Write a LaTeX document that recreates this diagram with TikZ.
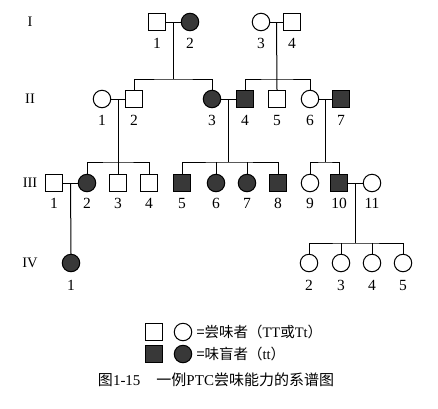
\documentclass[tikz,border=0pt]{standalone}
\usepackage{fontspec}
\setmainfont{Liberation Serif}
\newfontfamily\cjk{Noto Sans CJK SC}
\usepackage{xcolor}
\usepackage{tikz}
\usetikzlibrary{calc}

\begin{document}
\begin{tikzpicture}[
    x=1pt, y=-1pt,
    line width=1pt,
    male/.style={rectangle, draw, minimum size=17pt, inner sep=0pt, fill=white},
    female/.style={circle, draw, minimum size=17.5pt, inner sep=0pt, fill=white},
    aff/.style={fill=black!78},
    num/.style={font=\fontsize{15.5}{15.5}\selectfont, inner sep=0pt},
    gen/.style={font=\fontsize{14.5}{14.5}\selectfont, inner sep=0pt},
    txt/.style={font=\fontsize{14.5}{14.5}\selectfont, anchor=west, inner sep=0pt}
]
\useasboundingbox (0,0) rectangle (438,408);

% ── Generation labels ──
\node[gen] (gI)   at (30, 22)  {I};
\node[gen] (gII)  at (30, 99)  {II};
\node[gen] (gIII) at (30, 183) {III};
\node[gen] (gIV)  at (30, 263) {IV};

% ── Generation I ──
\node[male]        (I1) at (157, 22) {};
\node[female, aff] (I2) at (190, 22) {};
\node[female]      (I3) at (261, 22) {};
\node[male]        (I4) at (292, 22) {};
\node[num] at (157, 43) {1};
\node[num] at (190, 43) {2};
\node[num] at (261, 43) {3};
\node[num] at (292, 43) {4};

% ── Generation II ──
\node[female]      (II1) at (102, 99) {};
\node[male]        (II2) at (134, 99) {};
\node[female, aff] (II3) at (212, 99) {};
\node[male, aff]   (II4) at (245, 99) {};
\node[male]        (II5) at (277, 99) {};
\node[female]      (II6) at (310, 99) {};
\node[male, aff]   (II7) at (341, 99) {};
\foreach \n/\x in {1/102, 2/134, 3/212, 4/245, 5/277, 6/310, 7/341}
    \node[num] at (\x, 120) {\n};

% ── Generation III ──
\node[male]        (III1)  at (54, 183)  {};
\node[female, aff] (III2)  at (87, 183)  {};
\node[male]        (III3)  at (118, 183) {};
\node[male]        (III4)  at (149, 183) {};
\node[male, aff]   (III5)  at (182, 183) {};
\node[female, aff] (III6)  at (216, 183) {};
\node[female, aff] (III7)  at (247, 183) {};
\node[male, aff]   (III8)  at (278, 183) {};
\node[female]      (III9)  at (310, 183) {};
\node[male, aff]   (III10) at (339, 183) {};
\node[female]      (III11) at (372, 183) {};
\foreach \n/\x in {1/54, 2/87, 3/118, 4/149, 5/182, 6/216, 7/247, 8/278, 9/310, 10/339, 11/372}
    \node[num] at (\x, 203) {\n};

% ── Generation IV ──
\node[female, aff] (IV1) at (71, 263)  {};
\node[female]      (IV2) at (309, 263) {};
\node[female]      (IV3) at (341, 263) {};
\node[female]      (IV4) at (372, 263) {};
\node[female]      (IV5) at (403, 263) {};
\foreach \n/\x in {1/71, 2/309, 3/341, 4/372, 5/403}
    \node[num] at (\x, 285) {\n};

% ── Marriages and descent ──
\draw (I1) -- (I2);
\coordinate (mA) at ($(I1)!0.5!(I2)$);
\coordinate (sA) at (mA |- 0,79);
\draw (mA) -- (sA);
\draw (II2.north) |- (sA) -| (II3.north);

\draw (I3) -- (I4);
\coordinate (mB) at ($(I3)!0.5!(I4)$);
\coordinate (sB) at (mB |- 0,79);
\draw (mB) -- (II5.north);
\draw (II4.north) |- (sB) -| (II6.north);

\draw (II1) -- (II2);
\coordinate (mC) at ($(II1)!0.5!(II2)$);
\coordinate (sC) at (mC |- 0,162);
\draw (mC) -- (III3.north);
\draw (III2.north) |- (sC) -| (III4.north);

\draw (II3) -- (II4);
\coordinate (mD) at ($(II3)!0.5!(II4)$);
\coordinate (sD) at (mD |- 0,162);
\draw (mD) -- (sD);
\draw (III5.north) |- (sD) -| (III8.north);
\draw (III6.north) -- (III6.north |- sD);
\draw (III7.north) -- (III7.north |- sD);

\draw (II6) -- (II7);
\coordinate (mE) at ($(II6)!0.5!(II7)$);
\coordinate (sE) at (mE |- 0,162);
\draw (mE) -- (sE);
\draw (III9.north) |- (sE) -| (III10.north);

\draw (III1) -- (III2);
\coordinate (mF) at ($(III1)!0.5!(III2)$);
\draw (mF) -- (IV1.north);

\draw (III10) -- (III11);
\coordinate (mG) at ($(III10)!0.5!(III11)$);
\coordinate (sG) at (mG |- 0,243);
\draw (mG) -- (sG);
\draw (IV2.north) |- (sG) -| (IV5.north);
\draw (IV3.north) -- (IV3.north |- sG);
\draw (IV4.north) -- (IV4.north |- sG);

% ── Legend ──
\node[male]        (kM)  at (154, 332) {};
\node[female]      (kF)  at (183, 332) {};
\node[txt] (kT1) at (196, 332) {{\cjk =尝味者（}TT{\cjk 或}Tt{\cjk ）}};
\node[male, aff]   (kMA) at (154, 354) {};
\node[female, aff] (kFA) at (183, 354) {};
\node[txt] (kT2) at (196, 354) {{\cjk =味盲者（}tt{\cjk ）}};

% ── Caption ──
\node[font=\fontsize{15}{15}\selectfont, inner sep=0pt] (cap) at (216, 380)
    {{\cjk 图}1-15\hspace{16pt}{\cjk 一例}PTC{\cjk 尝味能力的系谱图}};

\end{tikzpicture}
\end{document}
